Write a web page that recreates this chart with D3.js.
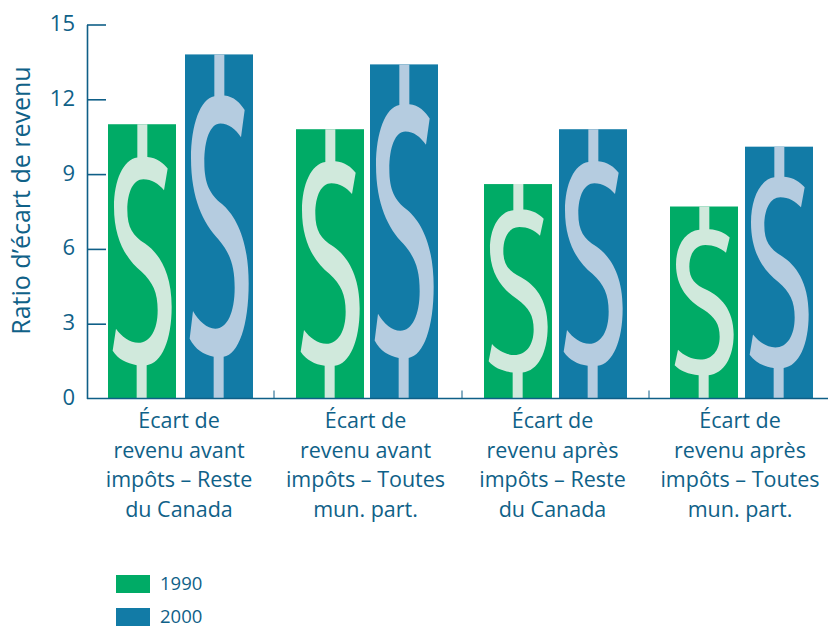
<!DOCTYPE html>
<meta charset="utf-8">
<style>
    body { margin: 0; background: #fff; }
    text { font-family: "Open Sans", sans-serif; fill: #0f6188; }
    .domain, .tick line { stroke: #0f5f87; stroke-width: 1.6; }
    .xtick { stroke: #0f5f87; stroke-width: 1; }
</style>
<body>
<div id="main"></div>
<script src="https://cdn.jsdelivr.net/npm/d3@7"></script>
<script>
var categories = [
    ["Écart de", "revenu avant", "impôts – Reste", "du Canada"],
    ["Écart de", "revenu avant", "impôts – Toutes", "mun. part."],
    ["Écart de", "revenu après", "impôts – Reste", "du Canada"],
    ["Écart de", "revenu après", "impôts – Toutes", "mun. part."]
];
var years = ["1990", "2000"];
var values1990 = [11.0, 10.8, 8.6, 7.7];
var values2000 = [13.8, 13.4, 10.8, 10.1];
var yTicks = [0, 3, 6, 9, 12, 15];

var yearColors = ["#00ab66", "#127ba6"];
var signColors = ["#d0e9dc", "#b5cce0"];

// dollar sign outline, in a 204 x 823 box that gets stretched over the bar
var sign = [
    ["M", 88, 0], ["L", 118, 0], ["L", 118, 98],
    ["C", 146, 100, 166, 116, 179, 133], ["L", 168, 198],
    ["C", 151, 178, 131, 165, 106, 165],
    ["C", 76, 165, 58, 203, 58, 258],
    ["C", 58, 310, 75, 335, 111, 358],
    ["C", 150, 385, 191, 440, 191, 548],
    ["C", 191, 648, 161, 718, 116, 723],
    ["L", 116, 823], ["L", 86, 823], ["L", 86, 723],
    ["C", 56, 718, 31, 706, 14, 680], ["L", 24, 614],
    ["C", 41, 638, 66, 656, 91, 656],
    ["C", 126, 656, 149, 618, 149, 558],
    ["C", 149, 505, 135, 475, 100, 442],
    ["C", 55, 405, 18, 345, 18, 248],
    ["C", 18, 168, 46, 106, 88, 100]
];

var margin = {top: 24.5, left: 87, right: 0, bottom: 228.5},
    width = 828 - margin.left - margin.right,
    height = 627 - margin.top - margin.bottom;

var svg = d3.select("#main").append("svg")
    .attr("width", 828).attr("height", 627)
    .style("display", "block");
var g = svg.append("g")
    .attr("transform", "translate(" + margin.left + "," + margin.top + ")");

// the groups in the picture are not evenly spaced
var barLeft = [[21, 98], [209, 283], [397, 472], [583, 658]];
var labelCenter = [92, 278.5, 465.5, 653];
var xTickPos = [187, 375, 562];
var y = d3.scaleLinear().domain([0, 15]).range([height, 0]);
var barW = 68;

function signPath(x0, y0, w, h) {
    var u = d3.scaleLinear().domain([0, 204]).range([x0, x0 + w]);
    var v = d3.scaleLinear().domain([0, 823]).range([y0, y0 + h]);
    var p = d3.path();
    sign.forEach(function(c) {
        if (c[0] == "M") p.moveTo(u(c[1]), v(c[2]));
        if (c[0] == "L") p.lineTo(u(c[1]), v(c[2]));
        if (c[0] == "C") p.bezierCurveTo(u(c[1]), v(c[2]), u(c[3]), v(c[4]), u(c[5]), v(c[6]));
    });
    p.closePath();
    return p.toString();
}

[values1990, values2000].forEach(function(vals, s) {
    vals.forEach(function(d, i) {
        var bx = barLeft[i][s];
        g.append("rect")
            .attr("x", bx).attr("y", y(d))
            .attr("width", barW).attr("height", y(0) - y(d))
            .attr("fill", yearColors[s]);
        g.append("path")
            .attr("d", signPath(bx, y(d), barW, y(0) - y(d)))
            .attr("fill", signColors[s]);
    });
});

var yAxis = d3.axisLeft(y).tickValues(yTicks).tickSize(-19).tickSizeOuter(0).tickFormat(d3.format("d"));
var yG = g.append("g").call(yAxis);
yG.selectAll(".tick text")
    .attr("x", -12).attr("dy", "0.27em")
    .style("font-size", "22px").attr("text-anchor", "end");
yG.selectAll(".tick").filter(function(d) { return d == 0; }).select("line").remove();

g.append("line").attr("class", "domain")
    .attr("x1", 0).attr("x2", width).attr("y1", y(0)).attr("y2", y(0));
xTickPos.forEach(function(t) {
    g.append("line").attr("class", "xtick")
        .attr("x1", t).attr("x2", t).attr("y1", y(0)).attr("y2", y(0) - 8);
});

categories.forEach(function(lines, i) {
    var t = g.append("text").attr("text-anchor", "middle").style("font-size", "21.5px");
    lines.forEach(function(l, k) {
        t.append("tspan").attr("x", labelCenter[i]).attr("y", 403.5 + k * 29.5).text(l);
    });
});

g.append("text")
    .attr("transform", "translate(-57," + (height / 2 - 11) + ") rotate(-90)")
    .attr("text-anchor", "middle").style("font-size", "25px")
    .text("Ratio d’écart de revenu");

years.forEach(function(yr, s) {
    var row = svg.append("g").attr("transform", "translate(116," + (575 + s * 33) + ")");
    row.append("rect").attr("width", 34).attr("height", 18).attr("fill", yearColors[s]);
    row.append("text").attr("x", 44).attr("y", 15).style("font-size", "18.5px").text(yr);
});
</script>
</body>
